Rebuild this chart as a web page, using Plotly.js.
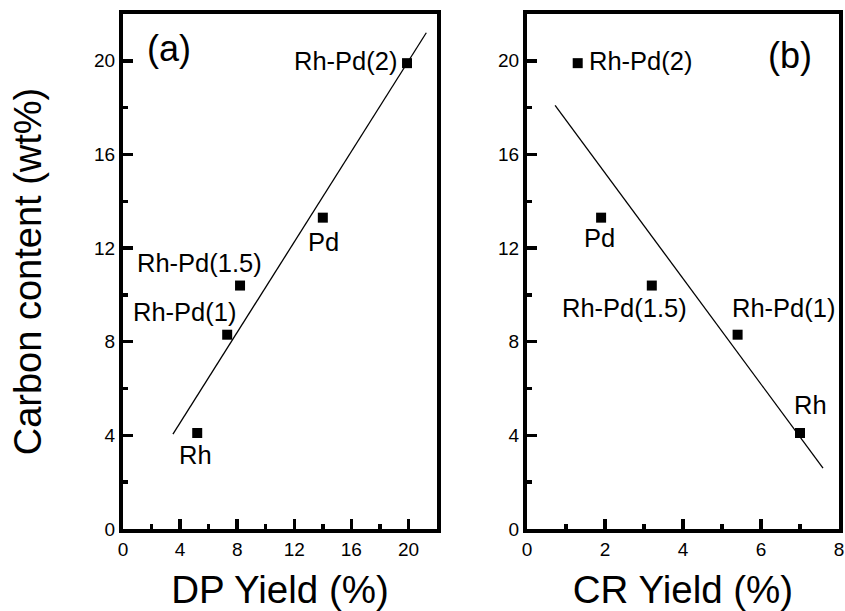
<!DOCTYPE html>
<html>
<head>
<meta charset="utf-8">
<script src="https://cdn.plot.ly/plotly-3.0.1.min.js"></script>
<style>html,body{margin:0;padding:0;background:#fff;}#chart{width:845px;height:611px;}</style>
</head>
<body>
<div id="chart"></div>
<script>
// Data
var samples = ["Rh", "Rh-Pd(1)", "Rh-Pd(1.5)", "Pd", "Rh-Pd(2)"];
var carbonContent = [4.1, 8.3, 10.4, 13.3, 19.9];
var dpYield = [5.2, 7.3, 8.2, 14.0, 19.9];
var crYield = [7.0, 5.4, 3.2, 1.9, 1.3];
// fitted lines (endpoints)
var fitDPx = [3.5, 21.25];
var fitDPy = [4.05, 21.2];
var fitCRx = [0.72, 7.59];
var fitCRy = [18.1, 2.6];
// label positions (data coords)
var labelDPx = [5.05, 4.32, 5.33, 14.08, 15.57];
var labelDPy = [3.15, 9.26, 11.35, 12.24, 20.0];
var labelCRx = [7.28, 6.58, 2.5, 1.87, 2.9];
var labelCRy = [5.29, 9.42, 9.42, 12.42, 20.0];

var traces = [
  {x: fitDPx, y: fitDPy, mode: 'lines', line: {color: '#000', width: 1.3}, xaxis: 'x', yaxis: 'y', showlegend: false, hoverinfo: 'skip'},
  {x: dpYield, y: carbonContent, mode: 'markers', marker: {symbol: 'square', size: 10, color: '#000'}, xaxis: 'x', yaxis: 'y', showlegend: false},
  {x: fitCRx, y: fitCRy, mode: 'lines', line: {color: '#000', width: 1.3}, xaxis: 'x2', yaxis: 'y2', showlegend: false, hoverinfo: 'skip'},
  {x: crYield, y: carbonContent, mode: 'markers', marker: {symbol: 'square', size: 10, color: '#000'}, xaxis: 'x2', yaxis: 'y2', showlegend: false}
];

var fontFam = 'Liberation Sans, Arial, sans-serif';
var labelFont = {family: fontFam, size: 25.5, color: '#000'};
var annotations = [];
for (var i = 0; i < samples.length; i++) {
  annotations.push({x: labelDPx[i], y: labelDPy[i], xref: 'x', yref: 'y', text: samples[i], showarrow: false, font: labelFont, xanchor: 'center', yanchor: 'middle'});
  annotations.push({x: labelCRx[i], y: labelCRy[i], xref: 'x2', yref: 'y2', text: samples[i], showarrow: false, font: labelFont, xanchor: 'center', yanchor: 'middle'});
}
annotations.push({x: 3.24, y: 20.54, xref: 'x', yref: 'y', text: '(a)', showarrow: false, font: {family: fontFam, size: 36, color: '#000'}, xanchor: 'center', yanchor: 'middle'});
annotations.push({x: 6.74, y: 20.24, xref: 'x2', yref: 'y2', text: '(b)', showarrow: false, font: {family: fontFam, size: 36, color: '#000'}, xanchor: 'center', yanchor: 'middle'});

function xAx(domain, range, dtick, title) {
  return {
    domain: domain, range: range, dtick: dtick, tick0: 0,
    ticks: 'inside', ticklen: 10, tickwidth: 3.5, tickcolor: '#000',
    minor: {ticks: 'inside', ticklen: 5, tickwidth: 3.5, tickcolor: '#000', dtick: dtick / 2},
    showline: true, linewidth: 4, linecolor: '#000', mirror: true,
    showgrid: false, zeroline: false,
    tickfont: {family: fontFam, size: 19, color: '#000'},
    title: {text: title, font: {family: fontFam, size: 38.5, color: '#000'}, standoff: 24},
    automargin: false
  };
}
function yAx(anchor, title) {
  return {
    domain: [0, 1], range: [0, 22], dtick: 4, tick0: 0, anchor: anchor,
    ticks: 'inside', ticklen: 10, tickwidth: 3.5, tickcolor: '#000',
    minor: {ticks: 'inside', ticklen: 5, tickwidth: 3.5, tickcolor: '#000', dtick: 2},
    showline: true, linewidth: 4, linecolor: '#000', mirror: true,
    showgrid: false, zeroline: false,
    tickfont: {family: fontFam, size: 19, color: '#000'},
    title: {text: title, font: {family: fontFam, size: 38, color: '#000'}, standoff: 42},
    automargin: false
  };
}

var layout = {
  width: 845, height: 611,
  margin: {l: 123, r: 6, t: 14, b: 82, pad: 0},
  paper_bgcolor: '#fff', plot_bgcolor: '#fff',
  showlegend: false,
  xaxis: Object.assign(xAx([0, 0.43855], [0, 22], 4, 'DP Yield (%)'), {anchor: 'y'}),
  yaxis: yAx('x', 'Carbon content (wt%)'),
  xaxis2: Object.assign(xAx([0.56425, 1], [0, 8], 2, 'CR Yield (%)'), {anchor: 'y2'}),
  yaxis2: yAx('x2', ''),
  annotations: annotations
};

Plotly.newPlot('chart', traces, layout, {displayModeBar: false, staticPlot: true});
</script>
</body>
</html>
